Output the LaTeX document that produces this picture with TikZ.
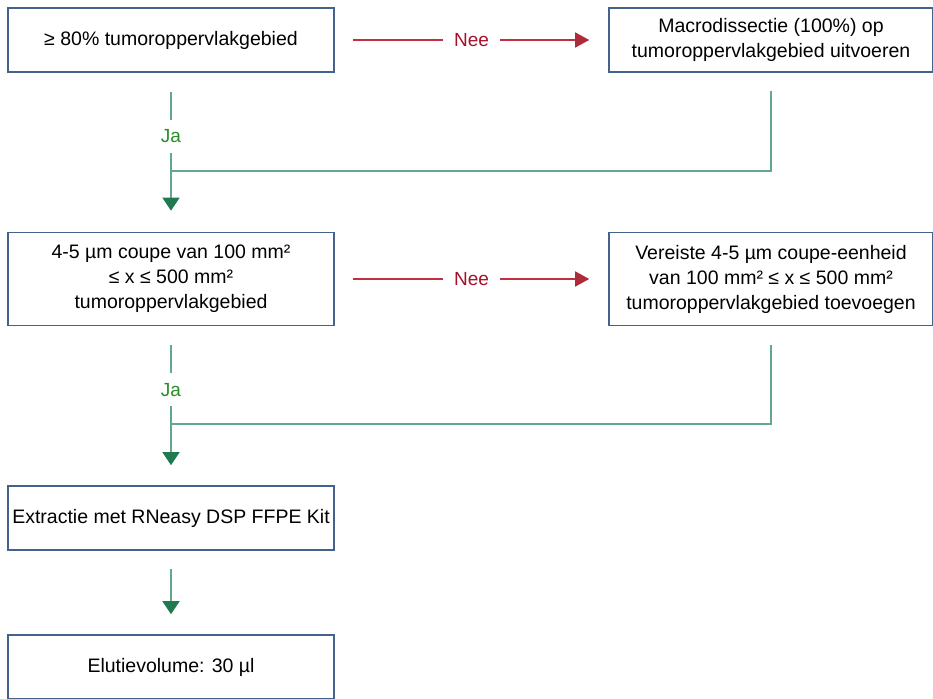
\documentclass[tikz,border=0pt]{standalone}
\usepackage{fontspec}
\setmainfont{Liberation Sans}
\usetikzlibrary{arrows.meta}
\definecolor{boxc}{HTML}{44638C}
\definecolor{redl}{HTML}{C03040}
\definecolor{redt}{HTML}{A8102A}
\definecolor{greenl}{HTML}{62A98C}
\definecolor{greenh}{HTML}{1F7A50}
\definecolor{greent}{HTML}{2A8C2A}
\begin{document}
\begin{tikzpicture}[x=1pt,y=-1pt,
  box/.style={draw=boxc, line width=1.6pt, fill=white, align=center,
    font=\fontsize{19.5}{25}\selectfont, inner sep=0pt, minimum width=326pt},
  rarrow/.style={draw=redl, line width=1.5pt,
    -{Triangle[length=14pt,width=15pt,color=redl!90!black]}},
  garrow/.style={draw=greenl, line width=1.6pt,
    -{Triangle[length=13pt,width=17pt,color=greenh]}},
  gline/.style={draw=greenl, line width=1.6pt},
  nee/.style={fill=white, text=redt, font=\fontsize{19}{21}\selectfont,
    inner xsep=11pt, inner ysep=4pt},
  ja/.style={fill=white, text=greent, font=\fontsize{19}{21}\selectfont,
    inner sep=0pt, minimum height=33pt, minimum width=14pt}]
\useasboundingbox (0,0) rectangle (933,698);
\clip (0,0) rectangle (933,698);
\node[box, minimum height=64pt] (b1) at (171,40) {≥ 80\% tumoroppervlakgebied};
\node[box, minimum width=324pt, minimum height=64pt] (b2) at (771,40) {Macrodissectie (100\%) op\\tumoroppervlakgebied uitvoeren};
\node[box, minimum height=93pt] (b3) at (171,279) {4-5 µm coupe van 100 mm²\\≤ x ≤ 500 mm²\\tumoroppervlakgebied};
\node[box, minimum width=324pt, minimum height=93pt] (b4) at (771,279) {Vereiste 4-5 µm coupe-eenheid\\van 100 mm² ≤ x ≤ 500 mm²\\tumoroppervlakgebied toevoegen};
\node[box, minimum height=64pt] (b5) at (171,518) {Extractie met RNeasy DSP FFPE Kit};
\node[box, minimum height=64pt] (b6) at (171,667) {Elutievolume: 30 µl};
\coordinate (m1) at (171,171);
\coordinate (m2) at (171,424);
\draw[rarrow, shorten <=18pt, shorten >=19pt] (b1) -- node[nee] {Nee} (b2);
\draw[rarrow, shorten <=18pt, shorten >=19pt] (b3) -- node[nee] {Nee} (b4);
\draw[gline, shorten <=18pt] (b2.south) |- (m1);
\draw[gline, shorten <=19pt] (b4.south) |- (m2);
\draw[garrow, shorten <=19pt, shorten >=21pt] (b1) -- node[ja, pos=0.4] {Ja} (b3);
\draw[garrow, shorten <=19pt, shorten >=20pt] (b3) -- node[ja, pos=0.4] {Ja} (b5);
\draw[garrow, shorten <=18pt, shorten >=20pt] (b5) -- (b6);
\end{tikzpicture}
\end{document}
